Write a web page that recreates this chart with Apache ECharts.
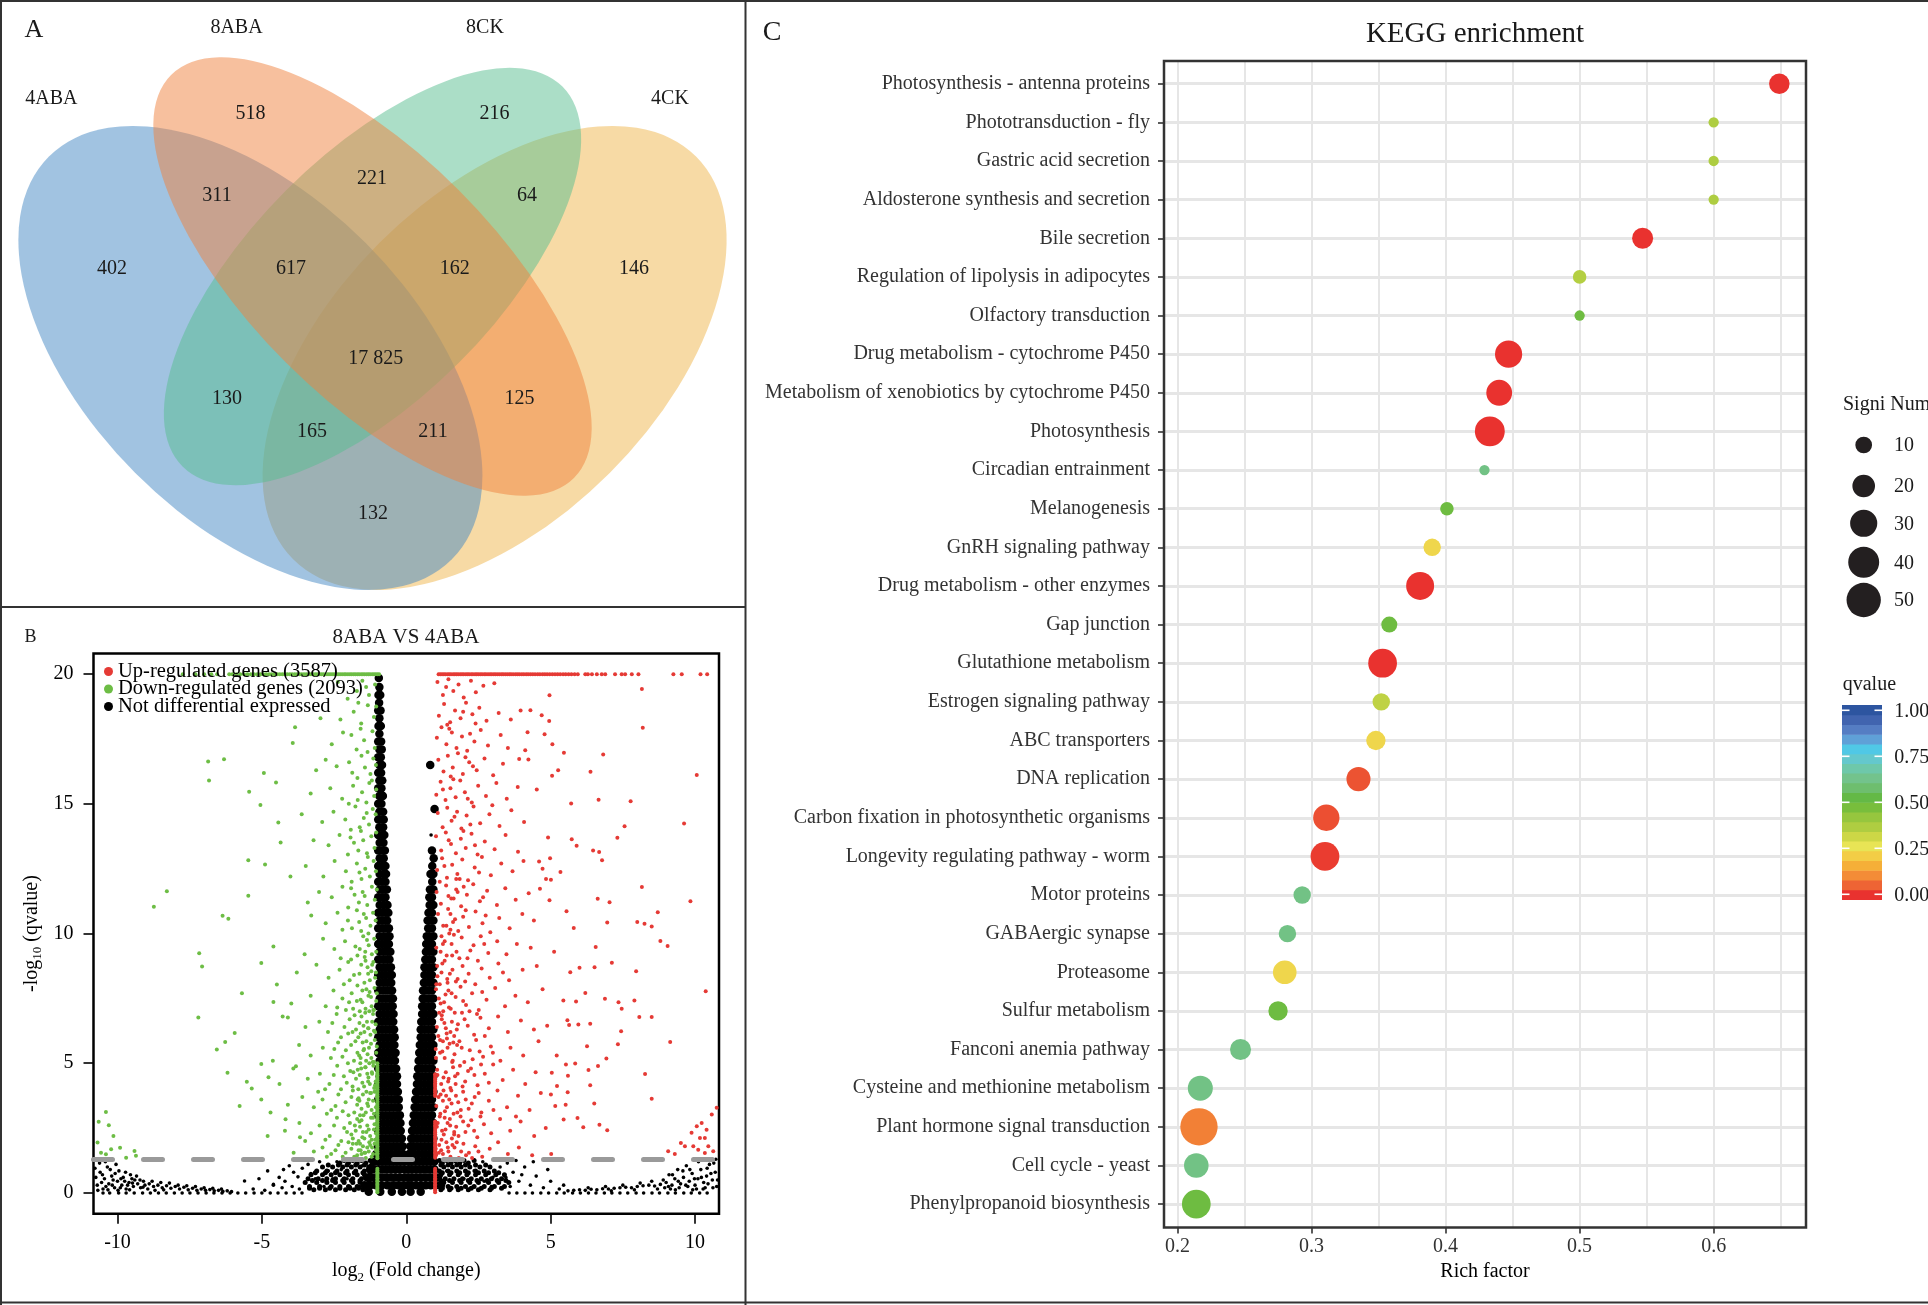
<!DOCTYPE html>
<html><head><meta charset="utf-8">
<script src="https://cdn.jsdelivr.net/npm/echarts@6.0.0/dist/echarts.min.js"></script>
<style>html,body{margin:0;padding:0;background:#fff}#c{width:1928px;height:1305px}</style>
</head><body><div id="c"></div><script>
// ================= DATA =================
// ---- Panel A : Venn diagram ----
const vennSetNames = ['4ABA', '8ABA', '8CK', '4CK'];
const vennRegionCounts = [402, 518, 216, 146, 311, 221, 64, 617, 162, 17825, 130, 125, 165, 211, 132];

// ---- Panel B : volcano plot ----
const volcanoTitle = '8ABA VS 4ABA';
const upCount = 3587, downCount = 2093;
const volcanoXTicks = [-10, -5, 0, 5, 10];
const volcanoYTicks = [0, 5, 10, 15, 20];
const qThreshold = 0.05;
const volcanoCap = 20;
// up-regulated [log2FC, -log10 q]
const upPts = [
[1.08,19.7],[1.27,19.2],[1.46,19.8],[1.63,19.35],[1.81,19.6],[1.99,19.1],[2.24,19.75],[2.41,19.3],[2.67,19.55],[3.05,19.65],[1.38,19.5],[4.96,19.19],[8.16,19.43],
[1.13,18.4],[1.31,18.85],[1.52,18.15],[1.69,18.6],[1.88,18.3],[2.07,18.9],[2.29,18.45],[2.53,18.7],[2.78,18.2],[3.2,18.5],[1.42,18.05],[1.97,18.55],[3.96,18.6],[4.3,18.61],[4.69,18.42],[4.95,18.19],[3.62,18.25],[2.4,18.1],
[1.06,17.55],[1.22,17.95],[1.39,17.3],[1.58,17.75],[1.74,17.15],[1.93,17.6],[2.11,17.05],[2.36,17.4],[2.58,17.85],[2.83,17.25],[3.27,17.65],[1.49,17.9],[2.21,17.7],[4.2,17.76],[4.79,17.68],[5.06,17.3],[4.12,17.07],[8.19,17.93],[3.52,17.15],
[1.11,16.7],[1.29,16.25],[1.44,16.85],[1.61,16.4],[1.79,16.95],[1.96,16.15],[2.18,16.6],[2.44,16.3],[2.71,16.75],[3.01,16.1],[3.35,16.55],[1.54,16.05],[2.05,16.8],[3.91,16.73],[4.23,16.71],[5.46,16.97],[5.26,16.3],[5.05,16.08],[6.82,16.9],[6.38,16.24],[10.06,16.11],[2.31,16.45],
[1.04,15.35],[1.19,15.85],[1.36,15.15],[1.53,15.6],[1.71,15.25],[1.87,15.9],[2.03,15.45],[2.27,15.05],[2.49,15.7],[2.76,15.3],[3.12,15.8],[3.48,15.2],[3.86,15.65],[1.63,15.95],[2.13,15.2],[4.52,15.55],[5.71,15.01],[6.66,15.16],[7.77,15.1],[1.27,15.55],
[1.09,14.65],[1.26,14.1],[1.42,14.85],[1.57,14.35],[1.76,14.7],[1.91,14.05],[2.09,14.55],[2.33,14.9],[2.56,14.25],[2.88,14.6],[3.23,14.15],[3.64,14.75],[4.08,14.3],[1.67,14.5],[2.22,14.2],[7.56,14.14],[9.62,14.24],[2.98,14.95],
[1.03,13.75],[1.21,13.2],[1.37,13.9],[1.55,13.45],[1.72,13.1],[1.89,13.65],[2.06,13.3],[2.26,13.85],[2.47,13.05],[2.72,13.55],[3.06,13.25],[3.44,13.8],[3.87,13.15],[1.47,13.6],[1.98,13.95],[2.38,13.4],[4.91,13.7],[5.73,13.64],[5.9,13.38],[6.47,13.2],[6.68,13.14],[7.31,13.69],
[1.07,12.45],[1.24,12.9],[1.41,12.15],[1.59,12.65],[1.77,12.3],[1.94,12.85],[2.14,12.05],[2.37,12.55],[2.62,12.95],[2.93,12.25],[3.29,12.7],[3.68,12.4],[4.06,12.8],[1.32,12.6],[1.85,12.1],[2.52,12.35],[4.98,12.9],[4.6,12.78],[4.72,12.5],[5.34,12.37],[6.78,12.83],[4.84,12.1],[5.01,12.07],[1.16,12.0],
[1.05,11.6],[1.2,11.15],[1.38,11.85],[1.56,11.35],[1.73,11.7],[1.9,11.05],[2.1,11.5],[2.32,11.9],[2.55,11.25],[2.8,11.65],[3.14,11.1],[3.43,11.75],[3.79,11.3],[1.46,11.45],[1.99,11.8],[2.66,11.4],[4.63,11.73],[4.96,11.28],[6.63,11.34],[7.04,11.21],[8.16,11.79],[9.84,11.25],[4.24,11.55],
[1.1,10.75],[1.28,10.3],[1.45,10.95],[1.62,10.45],[1.8,10.1],[1.97,10.65],[2.17,10.25],[2.4,10.85],[2.64,10.4],[2.91,10.05],[3.22,10.6],[3.58,10.2],[4.02,10.75],[1.53,10.15],[2.06,10.9],[2.75,10.7],[5.55,10.86],[5.8,10.21],[6.96,10.43],[8.0,10.45],[8.25,10.38],[8.5,10.27],[8.71,10.82],[4.42,10.5],
[1.04,9.45],[1.22,9.9],[1.4,9.15],[1.57,9.6],[1.74,9.3],[1.92,9.85],[2.12,9.05],[2.33,9.55],[2.58,9.9],[2.84,9.25],[3.15,9.7],[3.47,9.2],[3.83,9.6],[1.33,9.7],[1.84,9.05],[2.22,9.35],[2.7,9.6],[4.31,9.45],[5.12,9.3],[6.56,9.48],[8.8,9.71],[9.05,9.52],[1.65,9.95],
[1.08,8.35],[1.25,8.85],[1.43,8.1],[1.6,8.6],[1.78,8.25],[1.95,8.75],[2.16,8.45],[2.39,8.05],[2.61,8.65],[2.89,8.3],[3.19,8.85],[3.56,8.2],[4.03,8.6],[4.52,8.75],[1.51,8.45],[2.04,8.15],[2.48,8.95],[7.96,8.55],[7.12,8.87],[6.52,8.7],[6.0,8.68],[5.68,8.51],[1.16,8.05],[3.35,8.5],
[1.03,7.85],[1.19,7.3],[1.36,7.65],[1.54,7.1],[1.71,7.55],[1.88,7.95],[2.07,7.25],[2.28,7.7],[2.51,7.05],[2.78,7.45],[3.08,7.9],[3.42,7.2],[3.78,7.6],[4.21,7.35],[4.72,7.85],[1.46,7.8],[1.97,7.4],[2.63,7.75],[7.35,7.35],[7.46,7.1],[7.9,7.42],[6.2,7.71],[5.88,7.38],[5.44,7.42],[6.88,7.49],[10.37,7.78],[1.28,7.0],[2.19,7.0],
[1.06,6.4],[1.23,6.85],[1.4,6.15],[1.58,6.6],[1.75,6.3],[1.93,6.95],[2.13,6.45],[2.35,6.1],[2.57,6.75],[2.86,6.35],[3.18,6.8],[3.52,6.2],[3.97,6.65],[4.42,6.3],[1.32,6.55],[1.66,6.05],[2.02,6.7],[2.45,6.9],[8.07,6.78],[8.5,6.78],[7.44,6.23],[5.58,6.66],[5.64,6.47],[5.96,6.49],[6.37,6.52],[4.88,6.45],[1.14,6.95],[2.72,6.05],
[1.02,5.55],[1.17,5.9],[1.33,5.2],[1.5,5.75],[1.67,5.35],[1.84,5.85],[2.01,5.05],[2.2,5.5],[2.42,5.9],[2.66,5.25],[2.93,5.65],[3.26,5.1],[3.61,5.6],[4.05,5.3],[4.58,5.85],[1.25,5.45],[1.59,5.05],[1.92,5.6],[2.3,5.15],[2.54,5.45],[9.14,5.82],[7.33,5.73],[6.93,5.18],[6.26,5.66],[5.21,5.3],[1.41,5.95],[1.76,5.7],[3.0,5.4],
[1.07,4.75],[1.21,4.2],[1.37,4.65],[1.53,4.05],[1.69,4.5],[1.86,4.9],[2.04,4.3],[2.24,4.8],[2.47,4.15],[2.72,4.6],[3.01,4.95],[3.34,4.35],[3.7,4.75],[4.12,4.2],[4.48,4.65],[1.29,4.45],[1.62,4.85],[1.95,4.1],[2.36,4.55],[2.59,4.95],[8.27,4.59],[6.31,4.74],[6.37,4.15],[6.64,4.89],[5.85,4.99],[5.53,4.95],[5.6,4.52],[5.22,4.12],[5.04,4.63],[1.45,4.3],[1.78,4.6],[2.14,4.7],[2.86,4.25],
[1.04,3.35],[1.19,3.8],[1.34,3.15],[1.49,3.6],[1.64,3.05],[1.8,3.5],[1.97,3.9],[2.16,3.25],[2.37,3.7],[2.6,3.1],[2.86,3.55],[3.16,3.95],[3.49,3.3],[3.87,3.75],[4.27,3.2],[4.66,3.85],[1.27,3.55],[1.56,3.95],[1.89,3.2],[2.27,3.45],[2.51,3.85],[8.5,3.63],[6.51,3.45],[5.59,3.88],[5.52,3.4],[5.16,3.35],[5.01,3.8],[10.75,3.28],[10.58,3.02],[1.12,3.7],[1.41,3.3],[1.72,3.75],[2.06,3.6],[3.02,3.2],
[1.06,2.55],[1.16,2.95],[1.3,2.25],[1.43,2.7],[1.58,2.1],[1.73,2.55],[1.88,2.95],[2.05,2.35],[2.25,2.8],[2.46,2.15],[2.69,2.65],[2.94,2.3],[3.25,2.85],[3.6,2.4],[3.96,2.75],[4.43,2.2],[4.83,2.5],[1.22,2.05],[1.51,2.85],[1.81,2.2],[2.15,2.6],[2.57,2.95],[6.69,2.63],[6.96,2.42],[5.93,2.89],[6.13,2.53],[5.45,2.83],[9.88,2.32],[10.06,2.57],[10.23,2.7],[10.4,2.44],[10.34,2.12],[10.17,2.12],[1.36,2.45],[1.66,2.35],[1.97,2.75],[2.35,2.4],[3.8,2.95],
[1.03,1.45],[1.14,1.85],[1.27,1.5],[1.39,1.95],[1.53,1.4],[1.67,1.75],[1.82,1.35],[1.98,1.9],[2.17,1.55],[2.39,1.8],[2.63,1.4],[2.89,1.7],[3.18,1.95],[3.52,1.5],[3.9,1.75],[4.36,1.45],[1.21,1.65],[1.46,1.6],[1.75,1.95],[2.07,1.45],[2.5,1.6],[9.51,1.93],[9.65,1.8],[9.94,1.8],[10.11,1.67],[10.34,1.54],[10.46,1.8],[10.63,1.61],[9.3,1.5],[9.07,1.61],[5.02,1.5],[1.6,1.85],[1.9,1.6],[2.28,1.35],
[1.02,1.7],[1.09,2.7],[1.13,1.55],[1.18,3.05],[1.24,2.4],[1.29,3.95],[1.33,2.9],[1.38,3.75],[1.44,1.75],[1.47,4.4],[1.52,2.6],[1.57,3.45],[1.61,5.1],[1.66,2.25],[1.71,4.2],[1.77,3.1],[1.03,5.2],[1.08,4.55],[1.11,6.05],[1.17,5.4],[1.23,6.7],[1.27,5.85],[1.31,7.35],[1.37,6.35],[1.43,5.6],[1.48,7.15],[1.53,6.2],[1.57,7.7],[1.63,5.8],[1.68,6.95],[1.72,8.15],[1.79,6.5],[1.04,8.05],[1.07,8.75],[1.13,7.5],[1.19,9.3],[1.22,8.5],[1.27,9.6],[1.33,8.95],[1.39,10.3],[1.42,8.25],[1.49,10.0],[1.53,10.75],[1.59,9.15],[1.64,11.35],[1.69,10.55],[1.73,12.1],[1.78,11.6]
];
// up-regulated genes capped at -log10 q = 20 (log2FC values)
const upCappedX = [1.12,1.18,1.24,1.3,1.36,1.43,1.49,1.55,1.62,1.68,1.74,1.8,1.87,1.93,1.99,2.06,2.12,2.18,2.25,2.31,2.38,2.44,2.5,2.57,2.63,2.7,2.76,2.83,2.9,2.96,3.03,3.09,3.16,3.23,3.3,3.36,3.43,3.5,3.57,3.63,3.7,3.78,3.85,3.92,4.0,4.07,4.15,4.22,4.3,4.38,4.46,4.55,4.63,4.72,4.8,4.88,4.97,5.06,5.15,5.24,5.33,5.43,5.52,5.62,5.72,5.83,5.94,6.2,6.29,6.43,6.6,6.77,6.89,7.23,7.46,7.58,7.81,8.04,9.25,9.54,10.19,10.42];
// up-regulated genes sitting at log2FC = 1 (-log10 q values)
const upAtOneY = [0.03,0.09,0.16,0.21,0.28,0.33,0.4,0.45,0.52,0.57,0.63,0.7,0.75,0.82,0.87,0.93,1.36,1.42,1.5,1.56,1.63,1.69,1.77,1.83,1.9,1.98,2.04,2.12,2.18,2.26,2.33,2.39,2.47,2.54,2.6,2.68,2.75,3.74,3.8,3.88,3.95,4.01,4.09,4.16,4.22,4.3,4.37,4.43,4.51,4.58];
// down-regulated
const downPts = [
[-6.86,16.63],[-6.31,16.72],[-6.83,15.9],[-4.93,16.19],[-4.51,15.82],[-5.44,15.47],[-3.93,17.35],[-3.85,17.95],[-8.29,11.63],[-8.74,11.03],[-6.36,10.69],[-6.16,10.57],[-4.6,9.5],[-5.02,8.86],[-7.17,9.24],[-7.07,8.73],[-7.2,6.76],[-5.69,7.7],[-4.89,12.66],[-5.47,12.83],[-5.47,11.46],[-4.35,13.51],[-4.01,12.2],[-4.43,14.28],[-5.05,14.96],[-5.94,6.17],[-6.27,5.82],[-6.56,5.53],[-5.02,4.97],[-5.52,4.29],[-5.35,4.03],[-5.77,3.35],[-5.02,3.6],[-4.77,4.46],[-6.19,4.63],[-4.48,8.04],[-4.6,7.36],[-4.1,6.76],[-3.82,4.88],[-4.18,2.84],[-3.68,2.15],
[-10.65,2.74],[-10.4,3.12],[-10.3,2.61],[-10.14,2.2],[-10.69,1.94],[-10.57,1.55],[-10.22,1.68],[-9.91,1.74],[-10.4,1.49],[-9.7,1.36],[-9.41,1.62],[-9.36,1.43],
[-1.08,19.6],[-1.29,19.2],[-1.52,19.75],[-1.71,19.35],[-2.03,19.05],[-1.39,19.5],[-2.37,19.7],
[-1.12,18.35],[-1.33,18.8],[-1.56,18.1],[-1.82,18.55],[-2.28,18.25],[-1.04,18.75],[-2.97,18.3],[-1.66,18.9],
[-1.17,17.8],[-1.46,17.45],[-1.9,17.65],[-1.09,17.15],[-2.58,17.3],[-1.34,17.0],[-1.72,17.1],[-2.19,17.75],[-1.58,17.9],
[-1.14,16.75],[-1.43,16.4],[-1.98,16.6],[-1.24,16.15],[-1.69,16.0],[-2.41,16.45],[-1.05,16.5],[-2.79,16.7],[-3.12,16.3],[-1.87,16.2],[-1.55,16.85],
[-1.28,15.8],[-1.53,15.45],[-1.11,15.3],[-1.84,15.7],[-2.22,15.2],[-1.38,15.05],[-2.63,15.6],[-1.19,15.9],[-1.68,15.15],[-3.31,15.4],[-1.99,15.0],[-1.04,15.55],
[-1.16,14.8],[-1.47,14.45],[-1.76,14.9],[-2.11,14.4],[-1.29,14.2],[-1.06,14.6],[-2.52,14.7],[-1.61,14.1],[-2.91,14.3],[-1.92,14.0],[-3.62,14.6],[-1.37,14.65],
[-1.21,13.75],[-1.49,13.6],[-1.1,13.3],[-1.81,13.5],[-2.31,13.8],[-1.36,13.1],[-1.66,13.2],[-2.69,13.4],[-2.02,13.05],[-1.04,13.9],[-3.21,13.6],[-1.57,13.95],[-1.93,13.7],
[-1.13,12.8],[-1.42,12.5],[-1.71,12.7],[-1.26,12.2],[-2.09,12.4],[-1.55,12.1],[-2.48,12.8],[-1.05,12.4],[-1.89,12.0],[-2.87,12.2],[-3.48,12.6],[-1.33,12.95],[-1.62,12.35],
[-1.19,11.8],[-1.51,11.6],[-1.09,11.3],[-1.79,11.5],[-2.21,11.8],[-1.35,11.1],[-1.64,11.2],[-2.58,11.4],[-1.02,11.7],[-2.01,11.0],[-3.02,11.6],[-3.41,11.2],[-1.44,11.45],[-1.91,11.75],
[-1.15,10.8],[-1.39,10.6],[-1.71,10.9],[-1.24,10.3],[-2.02,10.5],[-1.56,10.1],[-2.38,10.8],[-1.06,10.5],[-1.88,10.2],[-2.79,10.4],[-3.29,10.7],[-1.31,10.0],[-1.47,10.75],[-1.63,10.45],[-2.21,10.15],
[-1.11,9.8],[-1.3,9.55],[-1.49,9.9],[-1.76,9.5],[-1.19,9.2],[-2.12,9.7],[-1.44,9.1],[-2.49,9.4],[-1.04,9.3],[-1.91,9.0],[-2.88,9.8],[-1.61,9.4],[-3.52,9.2],[-1.36,9.75],[-1.69,9.15],[-2.27,9.05],
[-1.14,8.9],[-1.34,8.7],[-1.56,8.8],[-1.81,8.4],[-1.26,8.2],[-2.01,8.9],[-1.45,8.1],[-2.31,8.6],[-1.05,8.5],[-1.69,8.0],[-2.69,8.3],[-3.11,8.8],[-1.96,8.2],[-3.79,8.5],[-1.21,8.55],[-1.62,8.45],[-2.16,8.05],[-1.41,8.95],
[-1.1,7.9],[-1.31,7.6],[-1.52,7.8],[-1.71,7.4],[-1.2,7.2],[-1.89,7.7],[-1.41,7.1],[-2.21,7.5],[-1.04,7.4],[-1.61,7.0],[-2.52,7.8],[-2.79,7.2],[-1.84,7.1],[-3.31,7.6],[-2.09,7.05],[-3.98,7.3],[-1.27,7.75],[-1.58,7.45],[-1.98,7.35],[-2.39,7.15],[-1.14,7.05],
[-1.15,6.9],[-1.36,6.6],[-1.55,6.8],[-1.74,6.3],[-1.24,6.1],[-1.96,6.7],[-1.45,6.2],[-2.14,6.4],[-1.06,6.5],[-1.66,6.0],[-2.41,6.9],[-2.71,6.2],[-3.01,6.6],[-1.86,6.2],[-3.49,6.4],[-2.26,6.0],[-4.28,6.8],[-1.31,6.35],[-1.62,6.55],[-2.01,6.15],[-1.12,6.25],[-2.56,6.55],[-1.79,6.85],
[-1.09,5.9],[-1.29,5.6],[-1.51,5.8],[-1.69,5.4],[-1.21,5.2],[-1.91,5.7],[-1.39,5.1],[-2.09,5.5],[-1.04,5.4],[-1.59,5.0],[-2.36,5.8],[-2.61,5.2],[-2.89,5.6],[-1.81,5.1],[-3.31,5.3],[-2.02,5.0],[-3.71,5.7],[-1.34,5.35],[-4.62,5.1],[-1.16,5.05],[-1.46,5.55],[-1.76,5.85],[-2.21,5.25],[-2.49,5.55],[-1.63,5.3],
[-1.14,4.9],[-1.35,4.6],[-1.56,4.8],[-1.74,4.4],[-1.26,4.2],[-1.94,4.7],[-1.46,4.1],[-2.16,4.5],[-1.06,4.3],[-1.66,4.0],[-2.39,4.9],[-2.66,4.2],[-2.99,4.6],[-1.86,4.1],[-3.41,4.4],[-2.26,4.0],[-3.91,4.8],[-1.31,4.45],[-1.61,4.55],[-2.81,4.0],[-4.39,4.2],[-1.11,4.05],[-1.41,4.85],[-1.83,4.65],[-2.06,4.25],[-2.51,4.55],[-1.19,4.65],
[-1.1,3.9],[-1.3,3.6],[-1.5,3.8],[-1.7,3.4],[-1.2,3.2],[-1.9,3.7],[-1.4,3.1],[-2.1,3.5],[-1.05,3.3],[-1.6,3.0],[-2.35,3.8],[-2.6,3.2],[-2.9,3.6],[-1.8,3.1],[-3.2,3.3],[-2.0,3.0],[-3.6,3.7],[-1.35,3.45],[-1.55,3.25],[-2.75,3.05],[-4.1,3.4],[-1.15,3.55],[-2.45,3.35],[-4.7,3.1],[-1.25,3.85],[-1.65,3.65],[-1.85,3.95],[-2.2,3.15],[-3.05,3.9],
[-1.15,2.9],[-1.35,2.6],[-1.55,2.8],[-1.75,2.4],[-1.25,2.2],[-1.95,2.7],[-1.45,2.1],[-2.15,2.5],[-1.05,2.3],[-1.65,2.0],[-2.4,2.9],[-2.65,2.2],[-3.0,2.6],[-1.85,2.1],[-3.3,2.3],[-2.25,2.0],[-3.7,2.7],[-1.3,2.45],[-1.6,2.55],[-2.8,2.05],[-4.2,2.4],[-1.1,2.65],[-2.05,2.35],[-4.8,2.2],[-3.5,2.0],[-1.2,2.05],[-1.5,2.35],[-1.7,2.85],[-1.9,2.25],[-2.5,2.6],
[-1.1,1.9],[-1.3,1.6],[-1.5,1.8],[-1.7,1.45],[-1.2,1.4],[-1.9,1.7],[-1.4,1.35],[-2.1,1.55],[-1.05,1.65],[-1.6,1.9],[-2.35,1.85],[-2.6,1.5],[-2.9,1.75],[-1.8,1.4],[-3.2,1.6],[-2.0,1.95],[-1.35,1.75],[-1.55,1.5],[-2.75,1.4],[-3.9,1.55],[-1.15,1.5],[-2.45,1.65],[-1.25,1.85],[-1.45,1.55],[-1.65,1.65],[-1.85,1.9],[-2.2,1.4],
[-1.02,1.5],[-1.08,2.05],[-1.12,2.45],[-1.18,1.75],[-1.22,2.9],[-1.28,1.95],[-1.32,3.35],[-1.38,2.35],[-1.42,1.55],[-1.48,3.0],[-1.52,2.15],[-1.58,1.65],[-1.62,2.75],[-1.68,3.6],[-1.72,1.9],[-1.78,2.6],[-1.02,3.7],[-1.08,4.15],[-1.12,3.05],[-1.18,4.6],[-1.22,3.85],[-1.28,5.0],[-1.32,4.3],[-1.38,3.9],[-1.42,4.85],[-1.48,5.5],[-1.52,4.25],[-1.58,5.2],[-1.62,3.55],[-1.68,4.75],[-1.02,5.65],[-1.08,6.2],[-1.12,5.05],[-1.18,6.6],[-1.22,5.75],[-1.28,7.0],[-1.32,6.35],[-1.38,5.85],[-1.42,6.95],[-1.48,6.45],[-1.52,7.35],[-1.58,6.15],[-1.02,7.7],[-1.08,8.3],[-1.12,7.05],[-1.18,8.8],[-1.22,7.55],[-1.32,8.45],[-1.38,7.85],[-1.42,9.3]
];
const downCappedX = [-0.94,-1.0,-1.06,-1.12,-1.18,-1.25,-1.31,-1.37,-1.44,-1.5,-1.56,-1.63,-1.69,-1.76,-1.82,-1.89,-1.95,-2.02,-2.09,-2.15,-2.22,-2.29,-2.36,-2.43,-2.5,-2.57,-2.64,-2.71,-2.78,-2.86,-2.93,-3.0,-3.08,-3.15,-3.23,-3.3,-3.38,-3.46,-3.54,-3.62,-3.7,-3.78,-3.86,-3.95,-4.03,-4.12,-4.2,-4.29,-4.38,-4.47,-4.56,-4.66,-4.75,-4.85,-4.95,-5.05,-5.16,-5.27,-5.38,-5.5,-5.62,-5.75,-5.88,-6.02,-6.13,-6.55,-6.75,-7.0,-7.3,-7.74];
const downAtMinusOneY = [0.03,0.08,0.15,0.2,0.27,0.33,0.38,0.45,0.5,0.57,0.62,0.69,0.75,0.8,0.87,0.93,1.34,1.4,1.47,1.53,1.6,1.67,1.73,1.8,1.86,1.93,2.0,2.06,2.13,2.2,2.26,2.33,2.4,2.46,2.53,2.6,2.66,2.73,2.8,2.86,2.93,3.0,3.07,3.13,3.2,3.27,3.33,3.4,3.47,3.53,3.6,3.67,3.73,3.8,3.87,3.93,4.0,4.07,4.13,4.2,4.27,4.34,4.4,4.47,4.54,4.6,4.67,4.74,4.82,4.9,5.0];
// not differential: dense V arms, rows [-log10 q, [log2FC...]]
const nsArmRows = [
[19.85,[-0.95]],[19.5,[-0.93]],[19.2,[-0.96,-0.9]],[18.9,[-0.94]],[18.6,[-0.97,-0.89]],[18.3,[-0.93]],[18.0,[-0.96,-0.88]],[17.7,[-0.93]],[17.4,[-0.97,-0.87]],[17.1,[-0.93,-0.85]],
[16.8,[-0.97,-0.88]],[16.5,[-0.93,-0.84]],[16.2,[-0.97,-0.87]],[15.9,[-0.93,-0.83]],[15.6,[-0.97,-0.86]],[15.3,[-0.93,-0.81]],[15.0,[-0.97,-0.86]],[14.7,[-0.93,-0.8]],[14.4,[-0.97,-0.85,-0.78]],[14.1,[-0.93,-0.8]],
[13.8,[-0.97,-0.84,-0.76]],[13.5,[-0.92,-0.79]],[13.2,[-0.97,-0.84,-0.74]],[12.9,[-0.92,-0.78]],[12.6,[-0.97,-0.84,-0.72]],[12.3,[-0.92,-0.78,-0.7]],[12.0,[-0.97,-0.84,-0.72]],[11.7,[-0.92,-0.78,-0.67]],[11.4,[-0.97,-0.84,-0.72]],[11.1,[-0.92,-0.78,-0.65]],
[10.8,[-0.97,-0.84,-0.71,-0.62]],[10.5,[-0.92,-0.78,-0.66]],[10.2,[-0.97,-0.84,-0.71,-0.6]],[9.9,[-0.92,-0.78,-0.65,-0.58]],[9.6,[-0.97,-0.84,-0.71,-0.6]],[9.3,[-0.92,-0.78,-0.65,-0.55]],[9.0,[-0.97,-0.84,-0.71,-0.58]],[8.7,[-0.92,-0.78,-0.65,-0.53]],[8.4,[-0.97,-0.84,-0.71,-0.58,-0.5]],[8.1,[-0.92,-0.78,-0.65,-0.52]],
[7.8,[-0.97,-0.84,-0.71,-0.58,-0.49]],[7.5,[-0.92,-0.78,-0.65,-0.52,-0.46]],[7.2,[-0.97,-0.84,-0.71,-0.58,-0.47]],[6.9,[-0.92,-0.78,-0.65,-0.52,-0.44]],[6.6,[-0.97,-0.84,-0.71,-0.58,-0.45]],[6.3,[-0.92,-0.78,-0.65,-0.52,-0.42]],[6.0,[-0.97,-0.84,-0.71,-0.58,-0.45,-0.4]],[5.7,[-0.92,-0.78,-0.65,-0.52,-0.41]],[5.4,[-0.97,-0.84,-0.71,-0.58,-0.45,-0.37]],[5.1,[-0.92,-0.78,-0.65,-0.52,-0.39]],
[4.8,[-0.97,-0.84,-0.71,-0.58,-0.45,-0.35]],[4.5,[-0.92,-0.78,-0.65,-0.52,-0.39,-0.32]],[4.2,[-0.97,-0.84,-0.71,-0.58,-0.45,-0.32]],[3.9,[-0.92,-0.78,-0.65,-0.52,-0.39,-0.29]],[3.6,[-0.97,-0.84,-0.71,-0.58,-0.45,-0.32,-0.26]],[3.3,[-0.92,-0.78,-0.65,-0.52,-0.39,-0.26]],[3.0,[-0.97,-0.84,-0.71,-0.58,-0.45,-0.32,-0.22]],[2.7,[-0.92,-0.78,-0.65,-0.52,-0.39,-0.26,-0.2]],[2.4,[-0.97,-0.84,-0.71,-0.58,-0.45,-0.32,-0.19]],[2.1,[-0.92,-0.78,-0.65,-0.52,-0.39,-0.26,-0.15]],
[1.8,[-0.98,-0.84,-0.71,-0.58,-0.45,-0.32,-0.19,-0.12]],[1.5,[-1.04,-0.9,-0.77,-0.64,-0.51,-0.38,-0.25,-0.11]],[1.2,[-1.12,-0.97,-0.84,-0.71,-0.58,-0.45,-0.32,-0.19,-0.07]],[0.9,[-1.25,-1.08,-0.93,-0.79,-0.65,-0.51,-0.37,-0.23,-0.06]],[0.6,[-1.35,-1.18,-1.02,-0.86,-0.7,-0.54,-0.38,-0.22,-0.06]],[0.3,[-1.45,-1.25,-1.05,-0.85,-0.65,-0.45,-0.27,-0.1]],[0.05,[-1.3,-0.9,-0.5,-0.15,0.15,0.5]],
[16.5,[0.83]],[14.8,[0.98]],[13.2,[0.89]],[12.9,[0.95]],[12.6,[0.9]],[12.3,[0.94,0.84]],[12.0,[0.9]],[11.7,[0.94,0.82]],[11.4,[0.89,0.8]],[11.1,[0.94,0.81]],
[10.8,[0.89,0.77]],[10.5,[0.94,0.81,0.74]],[10.2,[0.89,0.76]],[9.9,[0.94,0.81,0.71]],[9.6,[0.89,0.76,0.69]],[9.3,[0.94,0.81,0.68]],[9.0,[0.89,0.76,0.66]],[8.7,[0.94,0.81,0.68,0.63]],[8.4,[0.89,0.76,0.63]],[8.1,[0.94,0.81,0.68,0.61]],
[7.8,[0.89,0.76,0.63,0.58]],[7.5,[0.94,0.81,0.68,0.57]],[7.2,[0.89,0.76,0.63,0.55]],[6.9,[0.94,0.81,0.68,0.55]],[6.6,[0.89,0.76,0.63,0.52]],[6.3,[0.94,0.81,0.68,0.55,0.5]],[6.0,[0.89,0.76,0.63,0.5]],[5.7,[0.94,0.81,0.68,0.55,0.47]],[5.4,[0.89,0.76,0.63,0.5,0.45]],[5.1,[0.94,0.81,0.68,0.55,0.43]],
[4.8,[0.89,0.76,0.63,0.5,0.41]],[4.5,[0.94,0.81,0.68,0.55,0.42,0.38]],[4.2,[0.89,0.76,0.63,0.5,0.37]],[3.9,[0.94,0.81,0.68,0.55,0.42,0.34]],[3.6,[0.89,0.76,0.63,0.5,0.37,0.31]],[3.3,[0.94,0.81,0.68,0.55,0.42,0.29]],[3.0,[0.89,0.76,0.63,0.5,0.37,0.26]],[2.7,[0.94,0.81,0.68,0.55,0.42,0.29,0.23]],[2.4,[0.89,0.76,0.63,0.5,0.37,0.24,0.2]],[2.1,[0.94,0.81,0.68,0.55,0.42,0.29,0.17]],
[1.8,[0.89,0.76,0.63,0.5,0.37,0.24,0.14]],[1.5,[0.94,0.81,0.68,0.55,0.42,0.29,0.17,0.1]],[1.2,[0.97,0.84,0.71,0.58,0.45,0.32,0.19,0.08]],[0.9,[0.98,0.85,0.72,0.59,0.46,0.33,0.2,0.07]],[0.6,[1.1,0.95,0.8,0.65,0.5,0.35,0.2,0.07]],[0.3,[1.2,1.02,0.85,0.68,0.51,0.34,0.17,0.06]]
];
// not differential: dense band below the threshold, rows [-log10 q, [log2FC...]]
const nsBandRows = [
[1.25,[-2.15,-1.85,-1.55,-1.25,1.15,1.4,1.7,2.0,2.35]],
[1.15,[-2.3,-2.0,-1.7,-1.4,1.25,1.55,1.85,2.15]],
[1.08,[-2.7,-2.35,-2.05,-1.75,-1.45,-1.2,1.2,1.45,1.75,2.05,2.4,2.75]],
[1.0,[-2.9,-2.55,-2.2,-1.9,-1.6,-1.3,1.3,1.6,1.9,2.2,2.55,2.9]],
[0.85,[-3.1,-2.75,-2.4,-2.05,-1.75,-1.45,1.15,1.45,1.75,2.05,2.4,2.7,3.05]],
[0.78,[-3.15,-2.8,-2.45,-2.1,-1.8,-1.5,-1.25,1.25,1.55,1.85,2.15,2.5,2.85,3.2]],
[0.7,[-3.3,-2.9,-2.6,-2.3,-2.0,-1.7,-1.45,1.2,1.5,1.8,2.1,2.4,2.75,3.1,3.4]],
[0.55,[-3.4,-3.05,-2.75,-2.45,-2.15,-1.85,-1.55,1.35,1.65,1.95,2.25,2.6,2.95,3.3]],
[0.48,[-3.25,-2.9,-2.55,-2.2,-1.9,-1.6,-1.3,1.2,1.5,1.85,2.15,2.45,2.8,3.15,3.45]],
[0.4,[-3.5,-3.1,-2.75,-2.45,-2.15,-1.85,-1.6,1.3,1.6,1.9,2.2,2.5,2.85,3.2,3.55]],
[0.25,[-3.35,-3.0,-2.6,-2.3,-2.0,-1.7,-1.4,1.15,1.45,1.75,2.05,2.35,2.7,3.05,3.4]],
[0.18,[-3.35,-3.0,-2.65,-2.3,-1.95,-1.65,-1.35,1.25,1.55,1.9,2.25,2.6,2.95,3.3]],
[0.12,[-3.2,-2.8,-2.45,-2.1,-1.8,-1.5,1.2,1.5,1.8,2.15,2.5,2.9]]
];
// not differential: scattered genes [log2FC, -log10 q]
const nsPts = [
[-10.7,0.3],[-10.6,0.8],[-10.5,0.15],[-10.45,0.55],[-10.35,1.0],[-10.3,0.35],[-10.2,0.65],[-10.1,0.2],[-10.0,0.45],[-9.95,0.85],[-9.85,0.3],[-9.8,0.6],[-9.7,0.15],[-9.6,0.4],[-9.55,0.7],[-9.45,0.25],[-9.4,0.5],[-9.3,0.35],[-9.2,0.2],[-9.1,0.45],[-9.05,0.3],[-10.75,0.6],[-10.55,0.4],[-10.4,0.25],[-10.25,0.9],[-10.15,0.5],[-9.9,0.2],[-9.75,0.45],[-9.65,0.3],[-9.5,0.55],[-10.62,1.15],[-10.05,1.1],
[-10.78,0.95],[-10.68,0.1],[-10.52,0.7],[-10.42,1.2],[-10.33,0.12],[-10.18,0.3],[-10.08,0.75],[-9.98,0.1],[-9.88,0.55],[-9.72,0.8],[-9.58,0.12],[-9.48,0.38],[-9.34,0.65],[-9.22,0.5],[-9.12,0.22],[-8.95,0.15],[-8.7,0.1],[-8.4,0.12],
[-8.9,0.35],[-8.75,0.25],[-8.6,0.3],[-8.45,0.2],[-8.3,0.28],[-8.15,0.18],[-8.0,0.25],[-7.85,0.15],[-7.7,0.22],[-7.55,0.12],[-7.4,0.18],[-7.25,0.1],[-7.1,0.15],[-6.95,0.1],[-6.8,0.13],[-6.65,0.08],[-6.5,0.1],[-6.35,0.06],[-6.2,0.08],[-6.05,0.05],[-8.8,0.45],[-8.5,0.4],[-8.2,0.38],[-7.9,0.3],[-7.6,0.28],[-7.3,0.25],[-7.0,0.2],[-6.7,0.18],[-6.4,0.15],[-5.6,0.46],[-5.3,0.15],[-4.9,0.1],[-4.6,0.3],[-4.3,0.2],
[-4.6,0.33],[-4.4,0.6],[-4.2,0.45],[-4.05,1.05],[-3.9,0.8],[-3.75,0.62],[-3.6,0.95],[-3.5,0.4],[-3.4,1.1],[-3.3,0.75],[-4.8,0.85],[-5.1,0.55],[-3.95,0.25],[-3.7,0.15],[-4.25,0.9],
[-3.0,1.2],[-2.7,0.85],[-2.4,1.2],[-2.05,0.55],[-1.75,0.85],[-1.52,1.05],[-2.85,0.25],[-2.25,0.9],[-1.62,0.25],[-1.25,1.05],[-2.55,0.55],[-1.95,0.25],[-3.15,0.55],[-1.1,0.45],[-1.3,0.15],
[-0.78,15.4],[-0.8,12.5],[-0.62,9.8],[-0.5,7.9],[-0.38,5.5],[-0.28,3.6],[-0.16,2.3],[0.79,11.0],[0.68,9.1],[0.57,7.3],[0.45,5.2],[0.33,3.5],[0.2,2.5],[0.86,13.8],
[1.1,0.55],[1.4,0.85],[1.7,1.2],[2.0,0.55],[2.35,0.85],[2.65,1.2],[2.95,0.25],[3.25,1.0],[1.45,0.25],[2.35,0.25],[3.0,0.6],[2.7,0.45],
[3.5,1.15],[3.7,0.8],[3.9,0.45],[4.1,1.0],[4.3,0.3],[4.5,0.65],[4.75,0.2],[5.0,0.45],[5.3,0.15],[3.6,0.25],[4.0,0.7],[4.4,1.2],[3.45,0.6],[4.9,0.9],[5.45,0.3],[3.8,1.25],
[5.6,0.08],[5.8,0.1],[6.0,0.12],[6.2,0.1],[6.4,0.14],[6.6,0.12],[6.8,0.16],[7.0,0.15],[7.2,0.18],[7.4,0.2],[7.6,0.22],[7.8,0.2],[8.0,0.25],[8.2,0.28],[8.4,0.3],[8.6,0.27],[8.8,0.33],[6.3,0.2],[6.9,0.25],[7.5,0.3],[8.1,0.38],[8.5,0.45],[8.9,0.5],[7.1,0.08],[7.9,0.12],
[9.0,0.4],[9.1,0.7],[9.2,0.3],[9.3,0.55],[9.4,0.9],[9.5,0.35],[9.6,0.6],[9.7,1.05],[9.8,0.45],[9.9,0.75],[10.0,0.3],[10.1,0.55],[10.2,0.9],[10.3,0.4],[10.4,0.65],[10.5,1.1],[10.6,0.5],[10.7,0.8],[10.75,0.25],[9.15,0.15],[9.45,0.2],[9.75,0.25],[10.05,0.15],[10.35,0.2],[10.65,1.15],[10.45,0.35],
[10.78,0.5],[10.72,1.3],[10.62,0.2],[10.55,0.75],[10.42,0.95],[10.28,0.15],[10.22,0.6],[10.12,1.2],[9.98,0.55],[9.92,0.12],[9.82,0.9],[9.68,0.3],[9.58,0.85],[9.42,0.45],[9.32,0.12],[9.22,0.7],[9.08,0.25],[8.95,0.2],[8.7,0.15]
];
// not differential genes with q = 1 (-log10 q = 0), log2FC values
const nsZeroX = [-10.5,-10.27,-9.96,-9.7,-9.42,-9.13,-8.86,-8.58,-8.31,-8.03,-7.76,-7.49,-7.21,-6.93,-6.66,-6.38,-6.1,-5.83,-5.56,-5.27,-5.0,-4.71,-4.44,-4.16,-3.88,-3.61,3.56,3.83,4.11,4.37,4.66,4.93,5.21,5.47,5.76,6.03,6.31,6.57,6.86,7.12,7.4,7.67,7.96,8.22,8.51,8.77,9.06,9.32,9.61,9.87,10.16,10.42];

// ---- Panel C : KEGG enrichment ----
const keggTitle = 'KEGG enrichment';
const keggPathways = ['Photosynthesis - antenna proteins','Phototransduction - fly','Gastric acid secretion','Aldosterone synthesis and secretion','Bile secretion','Regulation of lipolysis in adipocytes','Olfactory transduction','Drug metabolism - cytochrome P450','Metabolism of xenobiotics by cytochrome P450','Photosynthesis','Circadian entrainment','Melanogenesis','GnRH signaling pathway','Drug metabolism - other enzymes','Gap junction','Glutathione metabolism','Estrogen signaling pathway','ABC transporters','DNA replication','Carbon fixation in photosynthetic organisms','Longevity regulating pathway - worm','Motor proteins','GABAergic synapse','Proteasome','Sulfur metabolism','Fanconi anemia pathway','Cysteine and methionine metabolism','Plant hormone signal transduction','Cell cycle - yeast','Phenylpropanoid biosynthesis'];
const keggRichFactor = [0.649,0.600,0.600,0.600,0.547,0.500,0.500,0.447,0.440,0.433,0.429,0.401,0.390,0.381,0.358,0.353,0.352,0.348,0.335,0.311,0.310,0.293,0.282,0.280,0.275,0.247,0.217,0.216,0.214,0.214];
const keggSigniNum = [16,3,3,3,17,6,3,30,27,37,3,6,11,32,9,34,11,14,23,28,34,11,11,22,14,17,25,60,24,34];
const keggQvalue = [0,0.37,0.37,0.37,0,0.36,0.5,0,0,0,0.62,0.5,0.23,0,0.5,0,0.34,0.23,0.035,0.03,0.01,0.62,0.62,0.23,0.5,0.62,0.62,0.09,0.62,0.5];
const keggXTicks = [0.2, 0.3, 0.4, 0.5, 0.6];
const keggGridX = [0.2, 0.25, 0.3, 0.35, 0.4, 0.45, 0.5, 0.55, 0.6, 0.65];
const sizeLegendValues = [10, 20, 30, 40, 50];
const qLegendTicks = [0, 0.25, 0.5, 0.75, 1];
const qPalette = ['#E9322F','#EE6434','#F38C37','#F5AF38','#F3CD46','#E8E455','#CDD746','#AFCD41','#96C63E','#78BE3C','#64B946','#6EBE6E','#73C38C','#6EC8AA','#64C8CD','#50C8E6','#5FA0D7','#557DC3','#4164AF','#2D55A0'];

// ================= BUILD =================
const FONT = "'Liberation Serif','Times New Roman',serif";
const TXT = '#1a1a1a';
const sizeOf = n => 2.5 + 4.5 * Math.sqrt(n);

const upAll = upPts.concat(upCappedX.map(x => [x, volcanoCap]), upAtOneY.map(y => [1, y]));
const downAll = downPts.concat(downCappedX.map(x => [x, volcanoCap]), downAtMinusOneY.map(y => [-1, y]));
const rowsToPts = rows => { const out = []; rows.forEach(r => r[1].forEach(x => out.push([x, r[0]]))); return out; };
const nsArm = rowsToPts(nsArmRows);
const nsBand = rowsToPts(nsBandRows);
const nsSmall = nsPts.concat(nsZeroX.map(x => [x, 0]));

const upName = 'Up-regulated genes (' + upCount + ')';
const downName = 'Down-regulated genes (' + downCount + ')';
const nsName = 'Not differential expressed';

function txt(x, y, text, size, align, vAlign, color, extra) {
  return Object.assign({type: 'text', x: x, y: y, silent: true, z: 20,
    style: {text: text, fill: color || TXT, font: size + 'px ' + FONT,
      textAlign: align || 'center', textVerticalAlign: vAlign || 'middle',
      align: align || 'center', verticalAlign: vAlign || 'middle'}}, extra || {});
}
function ln(x1, y1, x2, y2, color, w) {
  return {type: 'line', silent: true, z: 30, shape: {x1: x1, y1: y1, x2: x2, y2: y2}, style: {stroke: color, lineWidth: w}};
}
function rgba(c, a) { return 'rgba(' + c[0] + ',' + c[1] + ',' + c[2] + ',' + a + ')'; }

const G = [];
// frame
G.push(ln(0, 1, 1928, 1, '#333', 2));
G.push(ln(1, 0, 1, 1305, '#333', 2));
G.push(ln(0, 1302.5, 1928, 1302.5, '#333', 2));
G.push(ln(745.5, 0, 745.5, 1305, '#333', 2));
G.push(ln(0, 607, 745.5, 607, '#333', 2));

// ---- Venn (layout of VennDiagram quad venn, unit square -> px) ----
const VS = 814, VX0 = 372.5, VY0 = 740.5;
const vennShapes = [ // draw order
  {set: '4CK',  cx: 0.65, cy: 0.47, a: 0.35, b: 0.20, rot: 45,  col: [239,181,75]},
  {set: '4ABA', cx: 0.35, cy: 0.47, a: 0.35, b: 0.20, rot: 135, col: [67,135,195]},
  {set: '8CK',  cx: 0.50, cy: 0.57, a: 0.33, b: 0.15, rot: 45,  col: [87,189,143]},
  {set: '8ABA', cx: 0.50, cy: 0.57, a: 0.35, b: 0.15, rot: 135, col: [239,129,61]}
];
vennShapes.forEach(e => {
  G.push({type: 'circle', silent: true, z: 5,
    x: VX0 + (e.cx - 0.5) * VS, y: VY0 - e.cy * VS,
    rotation: e.rot * Math.PI / 180, scaleX: 1, scaleY: e.b / e.a,
    shape: {cx: 0, cy: 0, r: e.a * VS},
    style: {fill: rgba(e.col, 0.5), stroke: null}});
});
const vennSetLabelPos = [[51.4, 99], [236.5, 28], [485, 28], [670, 99]];
vennSetNames.forEach((s, i) => G.push(txt(vennSetLabelPos[i][0], vennSetLabelPos[i][1], s, 20)));
const vennCountPos = [[112,269],[250.6,114],[494.4,114],[634,269],[217,196],[372,179],[527,196],[291,269],[454.7,269],[375.7,359],[227,399],[519.6,399],[312,432],[433,432],[373,514]];
const fmtCount = n => String(n).replace(/\B(?=(\d{3})+(?!\d))/g, ' ');
vennRegionCounts.forEach((n, i) => G.push(txt(vennCountPos[i][0], vennCountPos[i][1], fmtCount(n), 20)));

// panel letters & titles
G.push(txt(34, 30, 'A', 26));
G.push(txt(30.5, 637.5, 'B', 18));
G.push(txt(772, 33, 'C', 28));
G.push(txt(406, 637.5, volcanoTitle, 21));
G.push(txt(1475, 34, keggTitle, 29));

// KEGG panel border
G.push({type: 'rect', silent: true, z: 30, shape: {x: 1164, y: 61, width: 642, height: 1166.5}, style: {fill: null, stroke: '#333', lineWidth: 2.5}});

// size legend
G.push(txt(1843, 405, 'Signi Num', 20, 'left'));
const sizeLegY = [445, 486, 523.3, 562.3, 600];
sizeLegendValues.forEach((v, i) => {
  G.push({type: 'circle', silent: true, z: 20, shape: {cx: 1863.7, cy: sizeLegY[i], r: sizeOf(v) / 2}, style: {fill: '#231F20'}});
  G.push(txt(1894, sizeLegY[i] + 1, String(v), 20, 'left'));
});
// colour bar legend
G.push(txt(1842.7, 685, 'qvalue', 20, 'left'));
const cbTop = 705, cbBot = 899.3, cbH = (cbBot - cbTop) / qPalette.length;
qPalette.forEach((c, k) => {
  G.push({type: 'rect', silent: true, z: 20, shape: {x: 1842, y: cbBot - (k + 1) * cbH, width: 40, height: cbH + 0.6}, style: {fill: c}});
});
const q2y = q => 894.3 - q * 184;
qLegendTicks.forEach(q => {
  G.push(ln(1842, q2y(q), 1849.5, q2y(q), '#fff', 1.6));
  G.push(ln(1874.5, q2y(q), 1882, q2y(q), '#fff', 1.6));
  G.push(txt(1894.3, q2y(q) + 1, q.toFixed(2), 20, 'left'));
});

const subRich = {s: {fontSize: 13, lineHeight: 26, verticalAlign: 'bottom', fontFamily: FONT, color: '#000'}};
const chart = echarts.init(document.getElementById('c'), null, {renderer: 'canvas', width: 1928, height: 1305});
chart.setOption({
  animation: false,
  backgroundColor: '#fff',
  textStyle: {fontFamily: FONT},
  grid: [
    {left: 93.5, top: 653.4, width: 625.5, height: 560.3, show: true, borderColor: '#000', borderWidth: 2.5, backgroundColor: 'transparent', containLabel: false, outerBoundsMode: 'none'},
    {left: 1164, top: 64.4, width: 642, height: 1159, containLabel: false, outerBoundsMode: 'none'},
    {left: 1164, top: 61, width: 642, height: 1166.5, containLabel: false, outerBoundsMode: 'none'}
  ],
  xAxis: [
    {gridIndex: 0, type: 'value', min: -10.83, max: 10.83, splitLine: {show: false}, axisLine: {show: false, onZero: false},
     axisTick: {show: true, length: 10, lineStyle: {color: '#000', width: 1.6}, customValues: volcanoXTicks},
     axisLabel: {fontSize: 20, color: '#000', margin: 19, fontFamily: FONT, customValues: volcanoXTicks,
       formatter: v => (Math.abs(v / 5 - Math.round(v / 5)) < 1e-6 ? String(Math.round(v)) : '')},
     name: 'log{s|2} (Fold change)', nameLocation: 'middle', nameGap: 44,
     nameTextStyle: {fontSize: 20, color: '#000', fontFamily: FONT, lineHeight: 26, rich: subRich}},
    {gridIndex: 1, type: 'value', min: 0.1899, max: 0.6689, offset: 4, splitLine: {show: false}, axisLine: {show: false, onZero: false},
     axisTick: {show: true, length: 6, lineStyle: {color: '#333', width: 1.6}, customValues: keggXTicks},
     axisLabel: {fontSize: 20, color: '#333', margin: 9, fontFamily: FONT, customValues: keggXTicks,
       formatter: v => (Math.abs(v * 10 - Math.round(v * 10)) < 1e-6 ? v.toFixed(1) : '')},
     name: 'Rich factor', nameLocation: 'middle', nameGap: 33,
     nameTextStyle: {fontSize: 20, color: '#000', fontFamily: FONT}},
    {gridIndex: 2, type: 'value', min: 0.1899, max: 0.6689, show: false}
  ],
  yAxis: [
    {gridIndex: 0, type: 'value', min: -0.8, max: 20.8, splitLine: {show: false}, axisLine: {show: false, onZero: false},
     axisTick: {show: true, length: 10, lineStyle: {color: '#000', width: 1.6}, customValues: volcanoYTicks},
     axisLabel: {fontSize: 20, color: '#000', margin: 20, fontFamily: FONT, customValues: volcanoYTicks,
       formatter: v => (Math.abs(v / 5 - Math.round(v / 5)) < 1e-6 ? String(Math.round(v)) : '')},
     name: '-log{s|10} (qvalue)', nameLocation: 'middle', nameRotate: 90, nameGap: 49,
     nameTextStyle: {fontSize: 20, color: '#000', fontFamily: FONT, lineHeight: 26, rich: subRich}},
    {gridIndex: 1, type: 'category', data: keggPathways, inverse: true, splitLine: {show: false}, axisLine: {show: false, onZero: false},
     axisTick: {show: true, alignWithLabel: true, interval: 0, length: 6, lineStyle: {color: '#333', width: 1.6}},
     axisLabel: {fontSize: 20, color: '#333', margin: 14, interval: 0, fontFamily: FONT}},
    {gridIndex: 2, type: 'value', min: 0, max: 1, show: false}
  ],
  visualMap: [{type: 'continuous', show: false, min: 0, max: 1, dimension: 3, seriesIndex: 8, inRange: {color: qPalette}}],
  legend: {data: [upName, downName, nsName], orient: 'vertical', left: 104, top: 661, itemWidth: 9, itemHeight: 9, itemGap: -3.5,
    icon: 'circle', padding: 0, selectedMode: false,
    textStyle: {fontSize: 20.5, color: '#000', fontFamily: FONT}},
  series: [
    {type: 'scatter', name: nsName, xAxisIndex: 0, yAxisIndex: 0, data: nsSmall, symbolSize: 3.6, itemStyle: {color: '#000', opacity: 1}, silent: true, z: 2},
    {type: 'scatter', name: nsName, xAxisIndex: 0, yAxisIndex: 0, data: nsArm, symbolSize: 8.5, itemStyle: {color: '#000', opacity: 1}, silent: true, z: 2},
    {type: 'scatter', name: nsName, xAxisIndex: 0, yAxisIndex: 0, data: nsBand, symbolSize: 5, itemStyle: {color: '#000', opacity: 1}, silent: true, z: 2},
    {type: 'scatter', name: downName, xAxisIndex: 0, yAxisIndex: 0, data: downAll, symbolSize: 4, itemStyle: {color: '#6DBD45', opacity: 1}, silent: true, z: 2},
    {type: 'scatter', name: upName, xAxisIndex: 0, yAxisIndex: 0, data: upAll, symbolSize: 4, itemStyle: {color: '#E53A35', opacity: 1}, silent: true, z: 2},
    {type: 'scatter', name: '_threshold', xAxisIndex: 0, yAxisIndex: 0, data: [], z: 5, silent: true,
     markLine: {silent: true, z: 6, symbol: 'none', label: {show: false}, animation: false,
       lineStyle: {color: '#9A9A9A', width: 5, type: [19, 31], cap: 'round'},
       data: [{yAxis: -Math.log10(qThreshold)}]}},
    {type: 'scatter', name: '_hgrid', xAxisIndex: 1, yAxisIndex: 1, data: [], z: 0, silent: true,
     markLine: {silent: true, z: 0, symbol: 'none', label: {show: false}, animation: false,
       lineStyle: {color: '#E6E6E6', width: 3, type: 'solid'},
       data: keggPathways.map((p, i) => ({yAxis: i}))}},
    {type: 'scatter', name: '_vgrid', xAxisIndex: 2, yAxisIndex: 2, data: [], z: 0, silent: true,
     markLine: {silent: true, z: 0, symbol: 'none', label: {show: false}, animation: false,
       lineStyle: {color: '#E6E6E6', width: 2, type: 'solid'},
       data: keggGridX.map(v => ({xAxis: v}))}},
    {type: 'scatter', name: 'kegg', xAxisIndex: 1, yAxisIndex: 1, z: 8, silent: true,
     data: keggPathways.map((p, i) => [keggRichFactor[i], i, keggSigniNum[i], keggQvalue[i]]),
     encode: {x: 0, y: 1}, symbolSize: v => sizeOf(v[2]), itemStyle: {opacity: 1}}
  ],
  graphic: {elements: G}
});
</script></body></html>
